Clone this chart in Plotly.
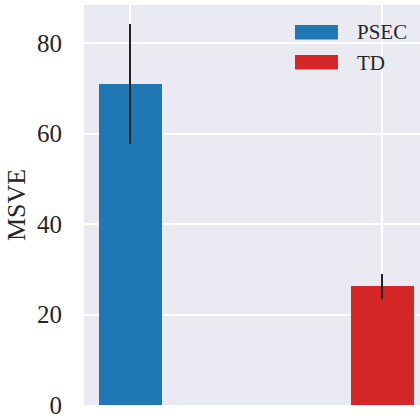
import plotly.graph_objects as go

methods = ["PSEC", "TD"]
msve = [71.0, 26.3]
err_low = [57.6, 23.4]
err_high = [84.2, 29.0]
colors = ["#1f77b4", "#d62728"]
positions = [0, 1]
ytick_vals = [0, 20, 40, 60, 80]

FONT = "Liberation Serif"
W, H = 420, 420
ML, MR, MT, MB = 84, 0, 5, 15
PW, PH = W - ML - MR, H - MT - MB

fig = go.Figure()
for i, m in enumerate(methods):
    fig.add_trace(go.Bar(
        x=[positions[i]], y=[msve[i]], name=m, width=0.25,
        marker=dict(color=colors[i], line=dict(width=0)),
        error_y=dict(type="data", symmetric=False,
                     array=[err_high[i] - msve[i]],
                     arrayminus=[msve[i] - err_low[i]],
                     color="#222222", thickness=2, width=0),
        showlegend=False,
    ))

# matplotlib-style legend (wide colour patches + labels), placed in paper coords
def px_x(p):
    return (p - ML) / PW

def px_y(p):
    return (H - MB - p) / PH

for i, m in enumerate(methods):
    top = 25 + i * 30
    fig.add_shape(type="rect", xref="paper", yref="paper",
                  x0=px_x(295), x1=px_x(338), y0=px_y(top + 14.5), y1=px_y(top),
                  fillcolor=colors[i], line=dict(width=0), layer="above")
    fig.add_annotation(xref="paper", yref="paper", x=px_x(355), y=px_y(top + 7.5),
                       xanchor="left", yanchor="middle", text=m, showarrow=False,
                       font=dict(size=21, family=FONT, color="#262626"))

fig.update_layout(
    width=W, height=H,
    margin=dict(l=ML, r=MR, t=MT, b=MB),
    paper_bgcolor="white", plot_bgcolor="#eaeaf2",
    font=dict(family=FONT, color="#262626", size=24),
    showlegend=False,
    bargap=0,
)
fig.update_xaxes(range=[-0.183, 1.15], tickvals=positions, showticklabels=False,
                 showgrid=True, gridcolor="white", gridwidth=1.5, zeroline=False,
                 showline=False, ticks="")
fig.update_yaxes(range=[0, 88.4], tickvals=ytick_vals, showgrid=True,
                 gridcolor="white", gridwidth=1.5, zeroline=False, showline=False,
                 ticks="outside", ticklen=16, tickcolor="rgba(0,0,0,0)",
                 tickfont=dict(size=25, family=FONT), automargin=False,
                 ticklabeloverflow="allow",
                 title=dict(text="MSVE", font=dict(size=26, family=FONT), standoff=3))

fig.write_html("out.html", config={"displayModeBar": False},
               post_script="document.body.style.margin='0';document.body.style.overflow='hidden';")
